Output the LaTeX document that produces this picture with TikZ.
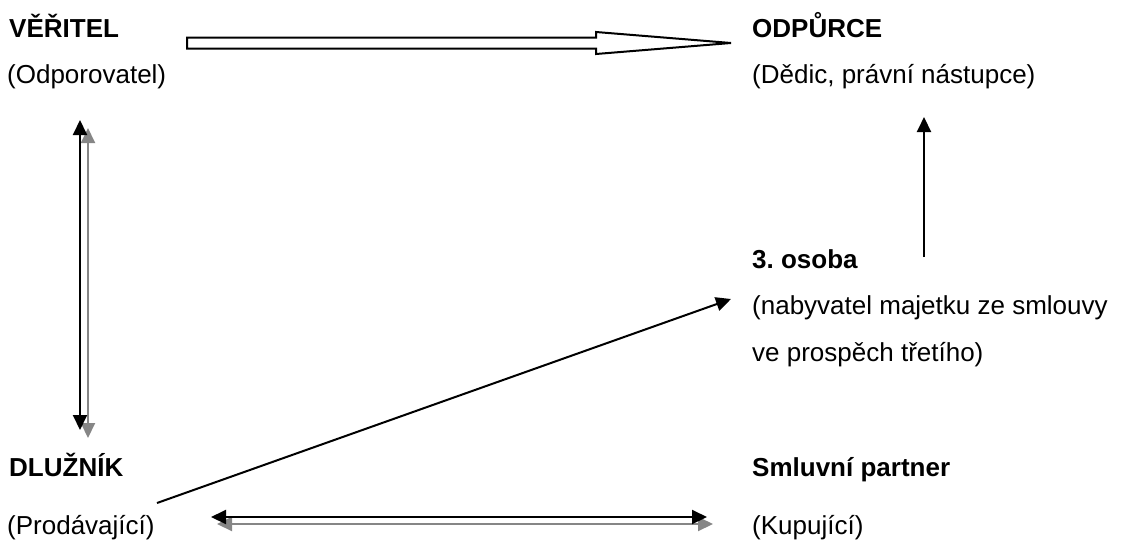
\documentclass[tikz,border=0pt]{standalone}
\usepackage{fontspec}
\setmainfont{Liberation Sans}
\usetikzlibrary{arrows.meta,calc}
\frenchspacing
\begin{document}
\begin{tikzpicture}[x=1pt,y=-1pt,
  txt/.style={anchor=base west, inner sep=0pt, font=\fontsize{26}{31}\selectfont},
  head/.style={anchor=base west, inner sep=0pt, font=\fontsize{26}{31}\selectfont\bfseries},
  tip/.tip={Triangle[length=15pt,width=14pt]},
  link/.style={line width=2pt, -tip},
  both/.style={line width=2pt, tip-tip},
  shadowline/.style={both, draw=shadowgray, fill=shadowgray},
  blockarrow/.style={line width=2pt, draw=black, fill=white, line join=miter}]
\definecolor{shadowgray}{HTML}{868686}
\useasboundingbox (0,0) rectangle (1129,546);

% parties
\node[head] (veritel)     at (9,37)    {VĚŘITEL};
\node[txt]  (odporovatel) at (7,83)    {(Odporovatel)};
\node[head] (odpurce)     at (752,37)  {ODPŮRCE};
\node[txt]  (dedic)       at (752,83)  {(Dědic, právní nástupce)};
\node[head] (osoba)       at (752,268) {3. osoba};
\node[txt]  (nabyvatel)   at (752,314) {(nabyvatel majetku ze smlouvy};
\node[txt]  (prospech)    at (752,361) {ve prospěch třetího)};
\node[head] (dluznik)     at (9,476)   {DLUŽNÍK};
\node[txt]  (prodavajici) at (7,534)   {(Prodávající)};
\node[head] (partner)     at (752,476) {Smluvní partner};
\node[txt]  (kupujici)    at (752,534) {(Kupující)};

% connector end points
\coordinate (vTop)  at (80,120);
\coordinate (vBot)  at (80,430);
\coordinate (hL)    at (211,517);
\coordinate (hR)    at (707,517);
\coordinate (dFrom) at (157,503);
\coordinate (dTo)   at (731,299);
\coordinate (uFrom) at (924,257);
\coordinate (uTo)   at (924,117);
\coordinate (bFrom) at (187,43);
\coordinate (bTo)   at (731,43);

% creditor -- debtor (with shadow)
\draw[shadowline] ($(vTop)+(8,8)$) -- ($(vBot)+(8,8)$);
\draw[both] (vTop) -- (vBot);

% debtor -- contractual partner (with shadow)
\draw[shadowline] ($(hL)+(6,7)$) -- ($(hR)+(6,7)$);
\draw[both] (hL) -- (hR);

% debtor -> third person
\draw[link] (dFrom) -- (dTo);

% third person -> opponent
\draw[link] (uFrom) -- (uTo);

% creditor => opponent (outlined block arrow)
\draw[blockarrow]
  ($(bFrom)+(0,-5.5)$) -- ($(bFrom)+(409,-5.5)$) -- ($(bFrom)+(409,-11)$)
  -- (bTo) -- ($(bFrom)+(409,11)$) -- ($(bFrom)+(409,5.5)$)
  -- ($(bFrom)+(0,5.5)$) -- cycle;
\end{tikzpicture}
\end{document}
